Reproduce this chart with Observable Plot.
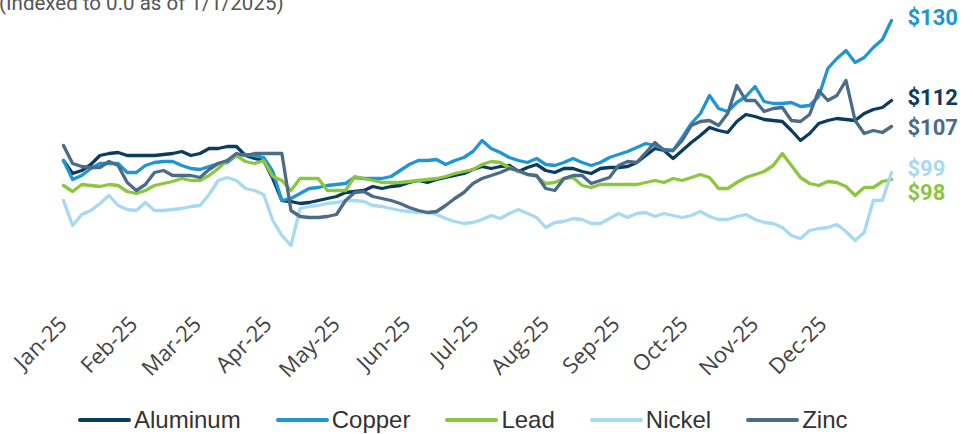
<!DOCTYPE html>
<html><head><meta charset="utf-8">
<script src="https://cdn.jsdelivr.net/npm/d3@7"></script>
<script src="https://cdn.jsdelivr.net/npm/@observablehq/plot@0.6"></script>
<style>
body{margin:0;background:#fff;width:973px;height:434px;overflow:hidden;position:relative;}
#title{position:absolute;left:-1px;top:-7px;font-family:Roboto,sans-serif;font-size:20.5px;line-height:20px;color:#555;white-space:nowrap}
#chart{position:absolute;left:0;top:0}
#legend{position:absolute;left:78px;top:405px;height:30px;display:flex;align-items:center;font-family:"Liberation Sans",Arial,sans-serif;font-size:24px;color:#333}
.item{display:flex;align-items:center;margin-right:35px}
.sw{width:53px;height:4px;border-radius:2px;margin-right:3px}
</style></head><body>
<div id="title">(Indexed to 0.0 as of 1/1/2025)</div>
<div id="chart"></div>
<div id="legend"></div>
<script>
const metals = ["Aluminum", "Copper", "Lead", "Nickel", "Zinc"];
const colors = ["#0b3b5e", "#1e96d3", "#8cc63f", "#a8d9f2", "#4b6b88"];
const endLabels = ["$112", "$130", "$98", "$99", "$107"];
const monthLabels = ["Jan-25","Feb-25","Mar-25","Apr-25","May-25","Jun-25","Jul-25","Aug-25","Sep-25","Oct-25","Nov-25","Dec-25"];

// index values, one reading every 4 days from 1 Jan 2025
const aluminum = [100.0,97.4,98.0,99.2,101.0,101.4,101.6,101.0,101.0,101.0,
  101.0,101.2,101.4,101.8,101.0,101.4,102.4,102.4,102.8,102.8,
  101.0,100.4,100.0,96.4,92.0,91.8,91.4,91.6,92.0,92.4,
  92.8,93.6,93.8,94.0,94.8,94.4,94.8,95.0,95.6,96.0,
  95.6,96.2,96.6,97.0,97.4,98.2,98.8,98.4,98.8,99.0,
  97.8,98.6,99.2,98.0,97.6,98.4,98.4,97.8,97.4,98.4,
  98.6,98.6,98.8,99.6,101.0,102.4,102.0,100.4,102.0,103.6,
  105.0,106.6,106.0,105.6,107.8,109.2,108.8,108.2,108.0,107.8,
  106.0,104.0,105.4,107.4,108.0,108.4,108.2,108.0,109.4,110.2,
  110.6,112.0];
const copper = [100.0,96.2,97.0,98.4,99.4,99.4,99.4,97.6,97.6,99.0,
  99.6,99.8,99.8,99.0,98.4,98.2,98.8,99.4,99.6,101.0,
  101.2,101.0,100.6,97.8,92.0,92.4,93.4,94.4,94.6,95.0,
  95.2,95.4,96.6,96.4,96.4,96.4,96.8,98.0,99.2,100.0,
  100.0,100.2,99.2,100.0,100.6,101.8,104.0,102.4,101.6,100.6,
  100.0,99.6,100.4,99.2,99.0,99.6,100.4,99.6,99.0,99.6,
  100.6,101.2,101.8,102.6,103.4,103.0,102.2,102.0,104.6,107.4,
  109.4,113.0,110.4,109.8,111.6,112.8,114.8,111.8,111.4,111.4,
  111.6,110.8,111.0,112.8,118.4,120.4,122.0,119.6,120.6,122.6,
  124.2,128.0];
const lead = [95.0,93.8,95.2,95.0,94.8,95.2,95.0,93.8,93.4,94.0,
  95.0,95.4,95.8,96.4,96.0,96.0,97.0,98.4,100.0,101.0,
  99.8,99.4,100.0,96.8,96.0,94.0,96.4,96.4,96.4,94.0,
  94.0,94.0,96.8,96.4,96.0,95.6,95.6,95.6,95.8,96.0,
  96.2,96.4,96.8,97.4,97.8,98.2,99.2,99.8,99.6,98.6,
  97.8,97.2,96.8,95.4,95.6,96.4,96.6,95.0,94.6,95.2,
  95.2,95.2,95.2,95.2,95.6,96.0,95.6,96.4,96.0,96.6,
  97.2,96.6,94.4,94.4,95.6,96.6,97.2,97.8,99.0,101.4,
  99.0,96.6,95.4,95.0,95.8,95.6,94.8,93.0,94.6,94.6,
  95.8,96.2];
const nickel = [92.0,87.0,89.2,90.0,91.4,93.0,91.0,90.2,90.0,91.6,
  90.0,90.0,90.2,90.4,90.8,91.0,93.2,96.0,96.6,96.0,
  94.4,94.0,93.2,88.0,85.0,83.0,90.4,90.8,91.0,91.4,
  91.6,92.0,92.0,91.8,91.0,90.8,90.4,90.0,89.8,89.6,
  89.6,89.2,88.4,87.8,87.4,87.6,88.2,89.0,88.4,89.4,
  90.2,89.4,88.6,86.6,87.6,87.8,88.4,88.2,87.4,87.4,
  88.4,89.4,88.6,89.4,89.6,88.8,89.4,89.0,88.6,89.0,
  89.8,88.8,88.2,88.2,88.8,89.2,88.2,87.6,87.4,86.6,
  85.0,84.4,86.0,86.4,86.6,87.2,85.8,84.0,85.6,92.0,
  92.0,97.6];
const zinc = [103.0,99.4,98.8,98.6,98.6,99.8,99.0,95.6,94.0,95.2,
  97.6,98.0,97.0,97.0,97.0,96.6,98.2,99.4,100.0,101.4,
  101.0,101.4,101.4,101.4,101.4,90.0,88.8,88.6,88.6,88.8,
  89.2,92.0,93.6,93.8,92.8,92.4,92.0,91.4,90.6,90.0,
  89.6,89.8,91.0,92.4,93.6,95.4,96.4,97.0,97.6,98.4,
  98.0,97.2,97.0,94.4,94.0,96.4,97.0,97.0,95.4,96.0,
  96.6,99.0,99.8,99.6,101.6,103.6,102.0,102.0,104.0,107.0,
  107.8,108.0,107.0,109.4,115.0,112.0,112.0,109.8,110.4,110.6,
  108.0,107.8,109.2,114.0,112.0,113.0,116.0,108.0,105.4,106.0,
  105.6,106.8];

const seriesValues = [aluminum, copper, lead, nickel, zinc];
const start = Date.UTC(2025, 0, 1);
const dates = aluminum.map((_, i) => new Date(start + i * 4 * 864e5));
const rows = metals.flatMap((m, k) => seriesValues[k].map((v, i) => ({metal: m, date: dates[i], value: v})));
const parseMonth = d3.utcParse("%b-%y");
const labelNudge = [-3, -3, 13, -4, 1];

const marks = [
  Plot.axisX({ticks: monthLabels.map(parseMonth), tickFormat: d3.utcFormat("%b-%y"), tickRotate: -45,
    tickSize: 0, tickPadding: 10, fontSize: 22, color: "#444", label: null, fontFamily: "Open Sans"}),
  Plot.line(rows, {x: "date", y: "value", z: "metal", stroke: "metal", strokeWidth: 3.3, strokeLinejoin: "round", curve: "linear"})
];
metals.forEach((m, k) => {
  const vals = seriesValues[k];
  marks.push(Plot.text([{date: dates[vals.length - 1], value: vals[vals.length - 1], label: endLabels[k]}], {
    x: "date", y: "value", text: "label", fill: colors[k], dx: 16, dy: labelNudge[k],
    textAnchor: "start", fontSize: 22, fontWeight: 700, fontFamily: "Roboto"
  }));
});

const chart = Plot.plot({
  width: 973, height: 395,
  marginLeft: 63, marginRight: 82, marginTop: 0, marginBottom: 85,
  style: {background: "transparent", overflow: "visible"},
  x: {type: "utc", domain: [new Date(Date.UTC(2025, 0, 1)), new Date(Date.UTC(2025, 11, 31))]},
  y: {domain: [70, 132], axis: null},
  color: {domain: metals, range: colors},
  marks
});
document.getElementById("chart").appendChild(chart);

const legend = document.getElementById("legend");
metals.forEach((m, k) => {
  const item = document.createElement("div");
  item.className = "item";
  item.innerHTML = `<span class="sw" style="background:${colors[k]}"></span><span>${m}</span>`;
  legend.appendChild(item);
});
</script>
</body></html>
